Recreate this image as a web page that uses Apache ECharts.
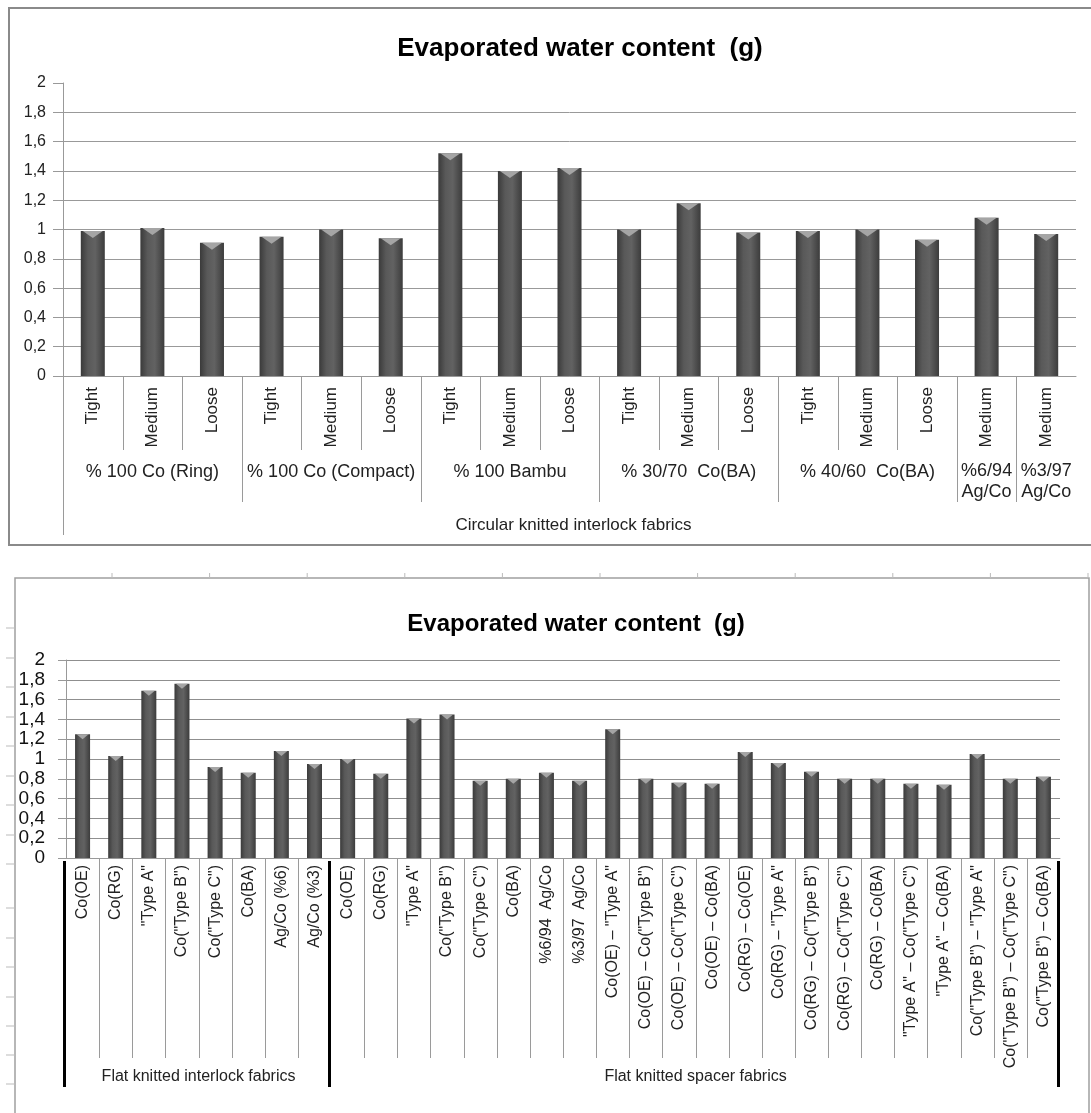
<!DOCTYPE html>
<html>
<head>
<meta charset="utf-8">
<title>Evaporated water content</title>
<script src="https://cdn.jsdelivr.net/npm/echarts@6/dist/echarts.min.js"></script>
<style>
html, body { margin: 0; padding: 0; background: #fff; }
#chart { width: 1091px; height: 1113px; }
</style>
</head>
<body>
<div id="chart"></div>
<script>
// top chart - circular knitted interlock fabrics
const topCategories = ['Tight', 'Medium', 'Loose', 'Tight', 'Medium', 'Loose', 'Tight', 'Medium', 'Loose',
  'Tight', 'Medium', 'Loose', 'Tight', 'Medium', 'Loose', 'Medium', 'Medium'];
const topValues = [0.99, 1.01, 0.91, 0.95, 1.00, 0.94, 1.52, 1.40, 1.42, 1.00, 1.18, 0.98, 0.99, 1.00, 0.93, 1.08, 0.97];
const topGroups = ['% 100 Co (Ring)', '% 100 Co (Compact)', '% 100 Bambu', '% 30/70  Co(BA)', '% 40/60  Co(BA)', '%6/94\nAg/Co', '%3/97\nAg/Co'];
const topGroupSizes = [3, 3, 3, 3, 3, 1, 1];
const topFamily = 'Circular knitted interlock fabrics';

// bottom chart - flat knitted fabrics
const bottomCategories = ['Co(OE)', 'Co(RG)', '"Type A"', 'Co("Type B")', 'Co("Type C")', 'Co(BA)', 'Ag/Co (%6)', 'Ag/Co (%3)',
  'Co(OE)', 'Co(RG)', '"Type A"', 'Co("Type B")', 'Co("Type C")', 'Co(BA)', '%6/94  Ag/Co', '%3/97  Ag/Co',
  'Co(OE) – "Type A"', 'Co(OE) – Co("Type B")', 'Co(OE) – Co("Type C")', 'Co(OE) – Co(BA)',
  'Co(RG) – Co(OE)', 'Co(RG) – "Type A"', 'Co(RG) – Co("Type B")', 'Co(RG) – Co("Type C")', 'Co(RG) – Co(BA)',
  '"Type A" – Co("Type C")', '"Type A" – Co(BA)', 'Co("Type B") – "Type A"', 'Co("Type B") – Co("Type C")', 'Co("Type B") – Co(BA)'];
const bottomValues = [1.25, 1.03, 1.69, 1.76, 0.92, 0.86, 1.08, 0.95, 1.00, 0.85, 1.41, 1.45, 0.78, 0.80, 0.86, 0.78,
  1.30, 0.80, 0.76, 0.75, 1.07, 0.96, 0.87, 0.80, 0.80, 0.75, 0.74, 1.05, 0.80, 0.82];
const bottomGroups = ['Flat knitted interlock fabrics', 'Flat knitted spacer fabrics'];
const bottomGroupSizes = [8, 22];

const chartTitle = 'Evaporated water content  (g)';
const yMax = 2;
const yStep = 0.2;

const FONT = '"Liberation Sans", Arial, sans-serif';

let chart = echarts.init(document.getElementById('chart'));

// cylinder look of the excel bars
function barColor () {
  return new echarts.graphic.LinearGradient(0, 0, 1, 0, [
    { offset: 0, color: '#3a3a3a' },
    { offset: 0.3, color: '#595959' },
    { offset: 0.6, color: '#626262' },
    { offset: 1, color: '#3c3c3c' }
  ]);
}

function commaLabel (v) {
  return String(Math.round(v * 10) / 10).replace('.', ',');
}

// top gridline at 2 is missing in the upper chart
let topSplitColors = [];
for (let i = 0; i <= yMax / yStep; i++) {
  topSplitColors.push(i === Math.round(yMax / yStep) ? 'rgba(0,0,0,0)' : '#999');
}

let option = {
  backgroundColor: '#ffffff',
  animation: false,
  grid: [
    { left: 63, right: 15, top: 83, bottom: 737 },
    { left: 66, right: 31, top: 660, bottom: 255 }
  ],
  xAxis: [{
    gridIndex: 0,
    type: 'category',
    data: topCategories,
    axisLine: { lineStyle: { color: '#999', width: 1 } },
    axisTick: { show: false },
    axisLabel: {
      interval: 0,
      rotate: 90,
      margin: 11,
      fontSize: 17,
      color: '#222',
      fontFamily: FONT
    }
  }, {
    gridIndex: 1,
    type: 'category',
    data: bottomCategories,
    axisLine: { lineStyle: { color: '#999', width: 1 } },
    axisTick: { show: false },
    axisLabel: {
      interval: 0,
      rotate: 90,
      margin: 7,
      fontSize: 16,
      color: '#222',
      fontFamily: FONT
    }
  }],
  yAxis: [{
    gridIndex: 0,
    type: 'value',
    min: 0,
    max: yMax,
    interval: yStep,
    axisLine: { show: true, lineStyle: { color: '#999' } },
    axisTick: { show: true, length: 10, lineStyle: { color: '#999' } },
    axisLabel: { margin: 17, fontSize: 16, color: '#222', fontFamily: FONT, formatter: commaLabel },
    splitLine: { lineStyle: { color: topSplitColors, width: 1 } }
  }, {
    gridIndex: 1,
    type: 'value',
    min: 0,
    max: yMax,
    interval: yStep,
    axisLine: { show: true, lineStyle: { color: '#999' } },
    axisTick: { show: true, length: 8, lineStyle: { color: '#999' } },
    axisLabel: { margin: 21, fontSize: 19, color: '#111', fontFamily: FONT, formatter: commaLabel },
    splitLine: { lineStyle: { color: '#8f8f8f', width: 1 } }
  }],
  series: [{
    type: 'bar',
    xAxisIndex: 0,
    yAxisIndex: 0,
    data: topValues,
    barWidth: 24,
    itemStyle: { color: barColor() },
    silent: true
  }, {
    // light bevel on top of each bar
    type: 'pictorialBar',
    xAxisIndex: 0,
    yAxisIndex: 0,
    data: topValues,
    symbol: 'path://M0,0 L20,0 L10,7 Z',
    symbolSize: [20, 7],
    symbolPosition: 'end',
    itemStyle: { color: '#a5a5a5' },
    z: 3,
    silent: true
  }, {
    type: 'bar',
    xAxisIndex: 1,
    yAxisIndex: 1,
    data: bottomValues,
    barWidth: 15,
    itemStyle: { color: barColor() },
    silent: true
  }, {
    type: 'pictorialBar',
    xAxisIndex: 1,
    yAxisIndex: 1,
    data: bottomValues,
    symbol: 'path://M0,0 L12,0 L6,5 Z',
    symbolSize: [12, 5],
    symbolPosition: 'end',
    itemStyle: { color: '#a5a5a5' },
    z: 3,
    silent: true
  }]
};
chart.setOption(option);

// ---- multi-level category decorations, placed with the axis scales ----
function boundary (axisIndex, k) {
  let c0 = chart.convertToPixel({ xAxisIndex: axisIndex }, 0);
  let c1 = chart.convertToPixel({ xAxisIndex: axisIndex }, 1);
  let band = c1 - c0;
  return c0 - band / 2 + k * band;
}

function vline (x, y1, y2, color, width) {
  return {
    type: 'line',
    silent: true,
    shape: { x1: x, y1: y1, x2: x, y2: y2 },
    style: { stroke: color, lineWidth: width }
  };
}

function label (text, x, y, size, bold) {
  return {
    type: 'text',
    silent: true,
    style: {
      text: text,
      x: x,
      y: y,
      align: 'center',
      verticalAlign: 'middle',
      fontSize: size,
      fontWeight: bold ? 'bold' : 'normal',
      fontFamily: FONT,
      fill: bold ? '#000' : '#222',
      lineHeight: size + 3
    }
  };
}

let graphics = [];

// frames
graphics.push({
  type: 'rect', silent: true,
  shape: { x: 9, y: 8, width: 1100, height: 537 },
  style: { fill: null, stroke: '#8a8a8a', lineWidth: 2 }
});
graphics.push({
  type: 'polyline', silent: true,
  shape: { points: [[15, 1113], [15, 578], [1089, 578], [1089, 1113]] },
  style: { fill: null, stroke: '#a0a0a0', lineWidth: 1.5 }
});
// spreadsheet cell marks around the lower frame
[628, 658, 687, 717, 746, 776, 805, 835, 864, 908, 938, 967, 997, 1026, 1055, 1084].forEach(function (y) {
  graphics.push({ type: 'line', silent: true, shape: { x1: 6, y1: y, x2: 15, y2: y }, style: { stroke: '#bbb', lineWidth: 1 } });
});
for (let x = 112; x < 1089; x += 97.6) {
  graphics.push({ type: 'line', silent: true, shape: { x1: x, y1: 573, x2: x, y2: 578 }, style: { stroke: '#bbb', lineWidth: 1 } });
}

// titles
graphics.push(label(chartTitle, 580, 49, 26, true));
graphics.push(label(chartTitle, 576, 624, 24, true));

// top chart category levels
let y0 = chart.convertToPixel({ yAxisIndex: 0 }, 0);
let topEnds = [];
let acc = 0;
topGroupSizes.forEach(function (n) { acc += n; topEnds.push(acc); });
for (let k = 1; k < topCategories.length; k++) {
  let isGroup = topEnds.indexOf(k) >= 0;
  graphics.push(vline(Math.round(boundary(0, k)) + 0.5, y0, y0 + (isGroup ? 126 : 74), '#9a9a9a', 1));
}
graphics.push(vline(Math.round(boundary(0, 0)) + 0.5, y0, y0 + 159, '#9a9a9a', 1));
let start = 0;
topGroups.forEach(function (g, i) {
  let cx = (boundary(0, start) + boundary(0, topEnds[i])) / 2;
  let twoLine = g.indexOf('\n') >= 0;
  graphics.push(label(g, cx, y0 + (twoLine ? 106 : 96), 18, false));
  start = topEnds[i];
});
graphics.push(label(topFamily, (boundary(0, 0) + boundary(0, topCategories.length)) / 2 + 4, y0 + 149, 17, false));

// bottom chart category levels
let y1 = chart.convertToPixel({ yAxisIndex: 1 }, 0);
let bottomEnds = [];
acc = 0;
bottomGroupSizes.forEach(function (n) { acc += n; bottomEnds.push(acc); });
for (let k = 1; k < bottomCategories.length; k++) {
  if (bottomEnds.indexOf(k) >= 0) continue;
  graphics.push(vline(Math.round(boundary(1, k)) + 0.5, y1, y1 + 200, '#9a9a9a', 1));
}
[0].concat(bottomEnds).forEach(function (k) {
  graphics.push(vline(Math.round(boundary(1, k)) - 1.5, y1 + 3, y1 + 229, '#000', 3));
});
start = 0;
bottomGroups.forEach(function (g, i) {
  let cx = (boundary(1, start) + boundary(1, bottomEnds[i])) / 2;
  graphics.push(label(g, cx, y1 + 219, 16, false));
  start = bottomEnds[i];
});

chart.setOption({ graphic: graphics });
</script>
</body>
</html>
